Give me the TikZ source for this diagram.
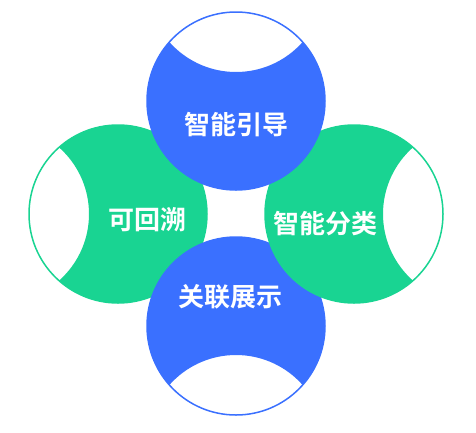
\documentclass[tikz,border=0pt]{standalone}
\usepackage{fontspec}
\newfontfamily\cjk{Noto Sans CJK SC}[BoldFont={Noto Sans CJK SC Bold}]
\definecolor{cblue}{RGB}{58,112,255}
\definecolor{cgreen}{RGB}{25,212,146}
\tikzset{
  lbl/.style={text=white,font=\cjk\bfseries\fontsize{26}{26}\selectfont,inner sep=0pt},
  rim/.style={line width=1.5pt}
}
\newcommand\petal[5]{%
  \fill[white] (#2,#3) circle[radius=89];
  \begin{scope}
    \clip (#2,#3) circle[radius=89];
    \fill[#1,even odd rule] (#2,#3) circle[radius=89] (#4,#5) circle[radius=89];
  \end{scope}
  \draw[#1,rim] (#2,#3) circle[radius=89];
}
\begin{document}
\begin{tikzpicture}[x=1pt,y=-1pt]
\useasboundingbox (0,0) rectangle (476,432);
% left green
\petal{cgreen}{118}{214}{0}{214}
% bottom blue
\petal{cblue}{236}{326}{236}{444}
% right green
\petal{cgreen}{354}{214}{472}{214}
% top blue
\petal{cblue}{236}{101}{236}{-17}
\node[lbl] (top) at (236,125) {智能引导};
\node[lbl] (left) at (147,220) {可回溯};
\node[lbl] (right) at (325,224) {智能分类};
\node[lbl] (bottom) at (230,297) {关联展示};
\end{tikzpicture}
\end{document}
